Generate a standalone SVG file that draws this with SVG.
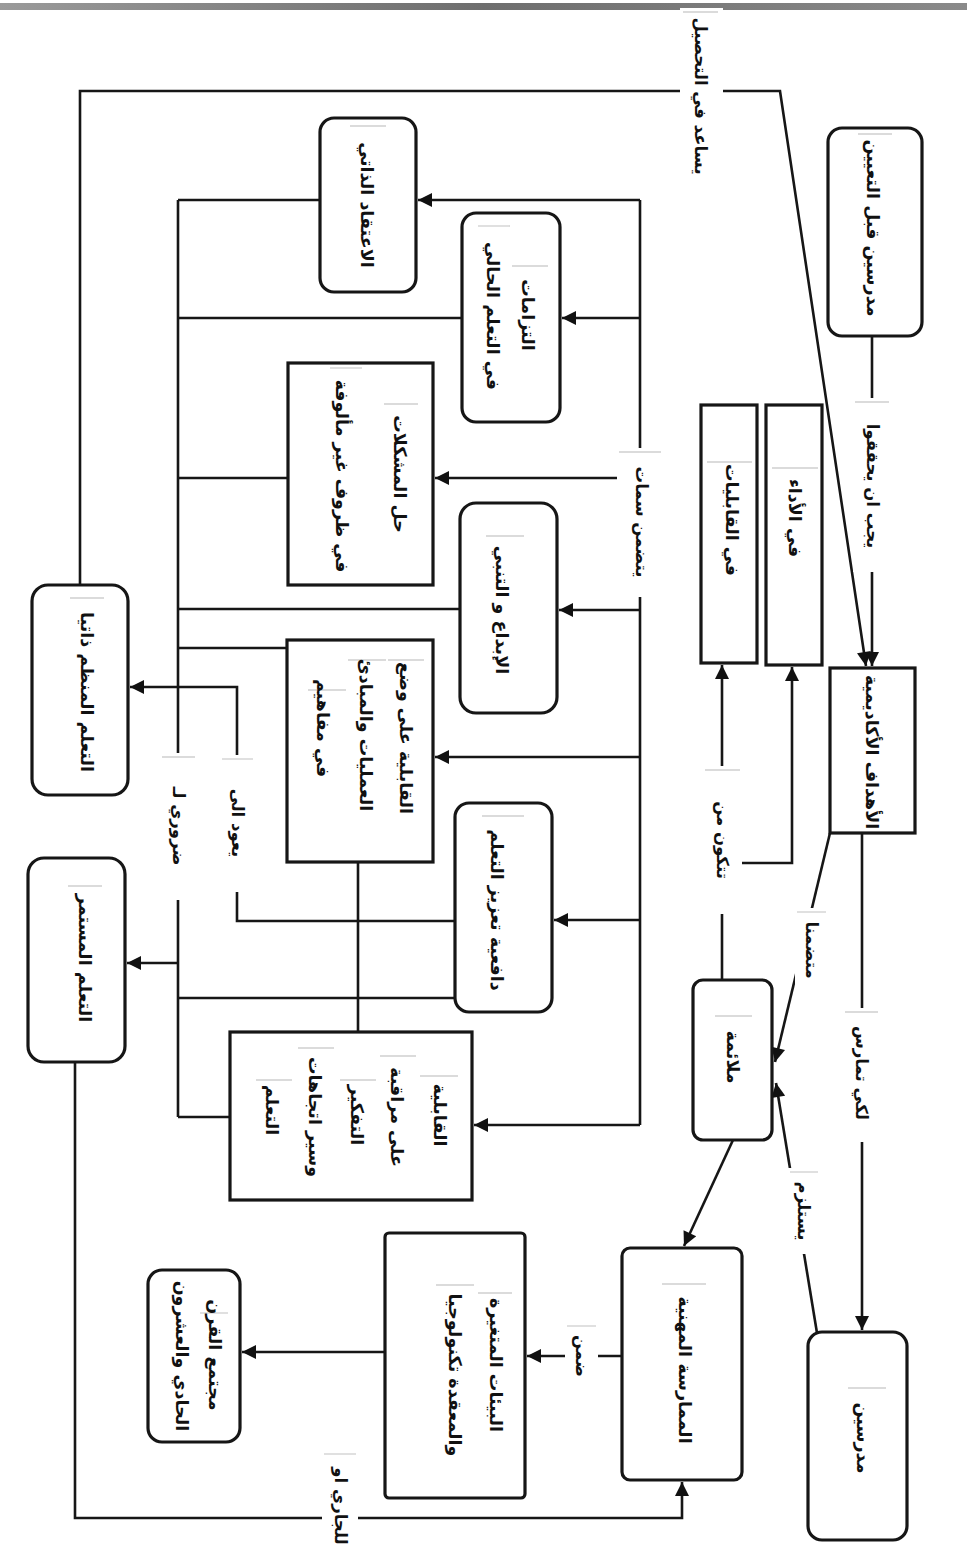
<svg xmlns="http://www.w3.org/2000/svg" width="967" height="1562" viewBox="0 0 967 1562">
  <style>
    .box { fill: #fff; stroke: #161616; stroke-width: 3.2; }
    .ln { fill: none; stroke: #161616; stroke-width: 2.6; }
    .arr { marker-end: url(#ah); }
    .t { font-family: "DejaVu Sans", sans-serif; font-weight: bold; font-size: 17.5px; fill: #111; text-anchor: middle; dominant-baseline: central; direction: rtl; }
    .lb { font-family: "DejaVu Sans", sans-serif; font-weight: bold; font-size: 16.5px; fill: #111; text-anchor: middle; dominant-baseline: central; direction: rtl; }
    .bg { fill: #fff; stroke: none; }
    .tb { fill: none; stroke: #cfcfcf; stroke-width: 1.3; }
  </style>
  <defs>
    <marker id="ah" viewBox="0 0 10 10" refX="10" refY="5" markerWidth="16" markerHeight="14" markerUnits="userSpaceOnUse" orient="auto">
      <path d="M0,0 L10,5 L0,10 z" fill="#111"/>
    </marker>
    <linearGradient id="edge" x1="0" y1="0" x2="1" y2="0">
      <stop offset="0" stop-color="#9a9a9a"/>
      <stop offset="0.5" stop-color="#6e6e6e"/>
      <stop offset="1" stop-color="#8a8a8a"/>
    </linearGradient>
  </defs>

  <rect width="967" height="1562" fill="#fff"/>
  <!-- page edge at the top -->
  <rect x="0" y="3" width="967" height="7" fill="url(#edge)"/>

  <!-- connectors -->
  <g id="connectors">
    <!-- self-regulated learning helps attainment of the academic goals -->
    <path class="ln arr" d="M80,585 V91 H780 L866,666"/>
    <!-- teachers before appointment -> academic goals -->
    <path class="ln arr" d="M872,337 V666"/>
    <!-- academic goals -> suitability -->
    <path class="ln arr" d="M830,833 L775,1062"/>
    <!-- academic goals -> teachers -->
    <path class="ln arr" d="M862,833 V1330"/>
    <!-- teachers -> suitability -->
    <path class="ln arr" d="M817,1333 L776,1083"/>
    <!-- suitability consists of -->
    <path class="ln arr" d="M722,980 V665"/>
    <path class="ln arr" d="M742,863 H792 V667"/>
    <!-- suitability -> professional practice -->
    <path class="ln arr" d="M733,1140 L684,1246"/>
    <!-- professional practice -> environments -->
    <path class="ln arr" d="M622,1356 H527"/>
    <!-- environments -> 21st century society -->
    <path class="ln arr" d="M385,1352 H242"/>
    <!-- continuous learning -> professional practice -->
    <path class="ln arr" d="M75,1062 V1518 H682 V1482"/>

    <!-- right bus: includes traits -->
    <path class="ln" d="M640,1125 V200"/>
    <path class="ln arr" d="M640,200 H418"/>
    <path class="ln arr" d="M640,318 H562"/>
    <path class="ln arr" d="M640,478 H435"/>
    <path class="ln arr" d="M640,610 H559"/>
    <path class="ln arr" d="M640,757 H435"/>
    <path class="ln arr" d="M640,920 H554"/>
    <path class="ln arr" d="M640,1125 H474"/>

    <!-- left bus: necessary for -->
    <path class="ln" d="M178,200 V1117"/>
    <path class="ln" d="M178,200 H320"/>
    <path class="ln" d="M178,318 H462"/>
    <path class="ln" d="M178,478 H288"/>
    <path class="ln" d="M178,609 H460"/>
    <path class="ln" d="M178,648 H287"/>
    <path class="ln" d="M178,998 H455"/>
    <path class="ln" d="M178,1117 H230"/>
    <path class="ln arr" d="M178,963 H127"/>

    <!-- motivation returns to self-regulated learning -->
    <path class="ln arr" d="M455,921 H237 V687 H130"/>
    <!-- applying concepts <-> monitoring thinking -->
    <path class="ln" d="M358,862 V1032"/>

    <!-- connector labels -->
    <g id="labels">
      <rect class="bg" x="680" y="8" width="43" height="176"/>
      <path class="tb" d="M683,12 H718"/>
      <text class="lb" transform="translate(700,96) rotate(90)">يساعد في التحصيل</text>

      <rect class="bg" x="853" y="398" width="38" height="174"/>
      <path class="tb" d="M855,402 H889"/>
      <text class="lb" transform="translate(872,486) rotate(90)">يجب ان يحققوا</text>

      <rect class="bg" x="795" y="908" width="33" height="84"/>
      <path class="tb" d="M797,912 H826"/>
      <text class="lb" transform="translate(811,950) rotate(90)">متضمنا</text>

      <rect class="bg" x="843" y="1008" width="37" height="134"/>
      <path class="tb" d="M845,1012 H878"/>
      <text class="lb" transform="translate(861,1073) rotate(90)">لكي تمارس</text>

      <rect class="bg" x="788" y="1168" width="32" height="86"/>
      <path class="tb" d="M790,1172 H818"/>
      <text class="lb" transform="translate(803,1211) rotate(90)">يستلزم</text>

      <rect class="bg" x="703" y="766" width="39" height="148"/>
      <path class="tb" d="M705,770 H740"/>
      <text class="lb" transform="translate(722,840) rotate(90)">تتكون من</text>

      <rect class="bg" x="565" y="1322" width="33" height="68"/>
      <path class="tb" d="M567,1326 H596"/>
      <text class="lb" transform="translate(581,1356) rotate(90)">ضمن</text>

      <rect class="bg" x="322" y="1450" width="36" height="112"/>
      <path class="tb" d="M324,1454 H356"/>
      <text class="lb" transform="translate(340,1506) rotate(90)">للجاري او</text>

      <rect class="bg" x="617" y="448" width="46" height="149"/>
      <path class="tb" d="M619,452 H661"/>
      <text class="lb" transform="translate(641,522) rotate(90)">يتضمن سمات</text>

      <rect class="bg" x="160" y="753" width="37" height="147"/>
      <path class="tb" d="M162,757 H195"/>
      <text class="lb" transform="translate(178,826) rotate(90)">ضروري لـ</text>

      <rect class="bg" x="220" y="755" width="35" height="137"/>
      <path class="tb" d="M222,759 H253"/>
      <text class="lb" transform="translate(237,823) rotate(90)">يعود الى</text>
    </g>
  </g>

  <!-- nodes -->
  <g id="n-pre-service">
    <rect class="box" x="828" y="128" width="94" height="208" rx="14"/>
    <path class="tb" d="M858,134 H892"/>
    <text class="t" transform="translate(873,228) rotate(90)">مدرسين قبل التعيين</text>
  </g>
  <g id="n-performance">
    <rect class="box" x="766" y="405" width="56" height="260"/>
    <path class="tb" d="M772,468 H818"/>
    <text class="t" transform="translate(795,518) rotate(90)">في الأداء</text>
  </g>
  <g id="n-abilities">
    <rect class="box" x="701" y="405" width="56" height="258"/>
    <path class="tb" d="M707,462 H752"/>
    <text class="t" transform="translate(732,520) rotate(90)">في القابليات</text>
  </g>
  <g id="n-goals">
    <rect class="box" x="830" y="668" width="85" height="165"/>
    <text class="t" transform="translate(872,752) rotate(90)">الأهداف الأكاديمية</text>
  </g>
  <g id="n-suitability">
    <rect class="box" x="693" y="980" width="79" height="160" rx="10"/>
    <path class="tb" d="M715,1016 H752"/>
    <text class="t" transform="translate(733,1057) rotate(90)">ملائمة</text>
  </g>
  <g id="n-teachers">
    <rect class="box" x="808" y="1332" width="99" height="208" rx="14"/>
    <path class="tb" d="M848,1388 H886"/>
    <text class="t" transform="translate(863,1438) rotate(90)">مدرسين</text>
  </g>
  <g id="n-practice">
    <rect class="box" x="622" y="1248" width="120" height="232" rx="8"/>
    <path class="tb" d="M662,1284 H706"/>
    <text class="t" transform="translate(685,1370) rotate(90)">الممارسة المهنية</text>
  </g>
  <g id="n-environments">
    <rect class="box" x="385" y="1233" width="140" height="265" rx="4"/>
    <path class="tb" d="M478,1293 H512"/>
    <path class="tb" d="M436,1285 H474"/>
    <text class="t" transform="translate(496,1365) rotate(90)">البيئات المتغيرة</text>
    <text class="t" transform="translate(455,1375) rotate(90)">والمعقدة تكنولوجيا</text>
  </g>
  <g id="n-society">
    <rect class="box" x="148" y="1270" width="92" height="172" rx="14"/>
    <path class="tb" d="M200,1313 H228"/>
    <text class="t" transform="translate(215,1355) rotate(90)">مجتمع القرن</text>
    <text class="t" transform="translate(182,1356) rotate(90)">الحادي والعشرون</text>
  </g>
  <g id="n-self-belief">
    <rect class="box" x="320" y="118" width="96" height="174" rx="14"/>
    <path class="tb" d="M350,126 H386"/>
    <text class="t" transform="translate(367,205) rotate(90)">الاعتقاد الذاتي</text>
  </g>
  <g id="n-commitments">
    <rect class="box" x="462" y="213" width="98" height="209" rx="14"/>
    <path class="tb" d="M478,226 H510"/>
    <path class="tb" d="M512,266 H548"/>
    <text class="t" transform="translate(528,315) rotate(90)">التزامات</text>
    <text class="t" transform="translate(493,316) rotate(90)">في التعلم الحالي</text>
  </g>
  <g id="n-problem-solving">
    <rect class="box" x="288" y="363" width="145" height="222"/>
    <path class="tb" d="M330,368 H362"/>
    <path class="tb" d="M384,404 H418"/>
    <text class="t" transform="translate(400,474) rotate(90)">حل المشكلات</text>
    <text class="t" transform="translate(342,476) rotate(90)">في ظروف غير مألوفة</text>
  </g>
  <g id="n-creativity">
    <rect class="box" x="460" y="503" width="97" height="210" rx="16"/>
    <path class="tb" d="M486,536 H524"/>
    <text class="t" transform="translate(502,610) rotate(90)">الإبداع و التنبي</text>
  </g>
  <g id="n-concepts">
    <rect class="box" x="287" y="640" width="146" height="222"/>
    <path class="tb" d="M388,660 H424"/>
    <path class="tb" d="M348,660 H386"/>
    <path class="tb" d="M308,690 H346"/>
    <text class="t" transform="translate(406,738) rotate(90)">القابلية على وضع</text>
    <text class="t" transform="translate(366,735) rotate(90)">العمليات والمبادئ</text>
    <text class="t" transform="translate(323,728) rotate(90)">في مفاهيم</text>
  </g>
  <g id="n-motivation">
    <rect class="box" x="455" y="803" width="97" height="209" rx="14"/>
    <path class="tb" d="M482,816 H524"/>
    <text class="t" transform="translate(497,910) rotate(90)">دافعية تعزيز التعلم</text>
  </g>
  <g id="n-monitoring">
    <rect class="box" x="230" y="1032" width="242" height="168"/>
    <path class="tb" d="M420,1076 H458"/>
    <path class="tb" d="M380,1056 H416"/>
    <path class="tb" d="M340,1080 H376"/>
    <path class="tb" d="M298,1048 H334"/>
    <path class="tb" d="M256,1080 H292"/>
    <text class="t" transform="translate(440,1115) rotate(90)">القابلية</text>
    <text class="t" transform="translate(397,1117) rotate(90)">على مراقبة</text>
    <text class="t" transform="translate(357,1115) rotate(90)">التفكير</text>
    <text class="t" transform="translate(315,1117) rotate(90)">وسير اتجاهات</text>
    <text class="t" transform="translate(272,1110) rotate(90)">التعلم</text>
  </g>
  <g id="n-self-regulated">
    <rect class="box" x="32" y="585" width="96" height="210" rx="16"/>
    <path class="tb" d="M70,598 H104"/>
    <text class="t" transform="translate(87,692) rotate(90)">التعلم المنظم ذاتيا</text>
  </g>
  <g id="n-continuous">
    <rect class="box" x="28" y="858" width="97" height="204" rx="16"/>
    <path class="tb" d="M68,886 H102"/>
    <text class="t" transform="translate(85,958) rotate(90)">التعلم المستمر</text>
  </g>
</svg>
